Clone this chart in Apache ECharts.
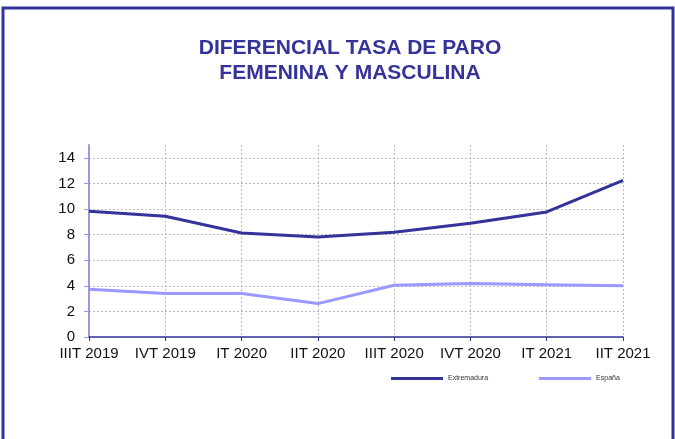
<!DOCTYPE html>
<html>
<head>
    <meta charset="utf-8">
    <title>Diferencial tasa de paro</title>
    <script type="text/javascript" src="https://cdn.jsdelivr.net/npm/echarts@6/dist/echarts.min.js"></script>
    <style>
        html, body { margin: 0; padding: 0; background: #fff; }
    </style>
</head>
<body>
<div id="chart" style="width:675px;height:439px;"></div>
<script type="text/javascript">
    // datos
    var trimestres = ['IIIT 2019', 'IVT 2019', 'IT 2020', 'IIT 2020', 'IIIT 2020', 'IVT 2020', 'IT 2021', 'IIT 2021'];
    var extremadura = [9.82, 9.43, 8.13, 7.81, 8.18, 8.88, 9.77, 12.24];
    var espana = [3.73, 3.39, 3.39, 2.61, 4.04, 4.17, 4.09, 4.01];
    var nombres = ['Extremadura', 'España'];
    var colores = ['#333399', '#9999ff'];

    var myChart = echarts.init(document.getElementById('chart'));

    var option = {
        backgroundColor: '#fff',
        animation: false,
        title: {
            text: 'DIFERENCIAL TASA DE PARO\nFEMENINA Y MASCULINA',
            left: 345,
            textAlign: 'center',
            top: 31,
            textStyle: {
                fontFamily: 'Liberation Sans, Arial',
                fontSize: 21,
                fontWeight: 'bold',
                color: '#333399',
                lineHeight: 25
            }
        },
        graphic: [
            {
                type: 'polyline',
                shape: { points: [[3, 439], [3, 8], [673, 8], [673, 439]] },
                style: { stroke: '#333399', lineWidth: 3, fill: null }
            }
        ],
        legend: {
            data: nombres,
            left: 386,
            top: 370,
            itemWidth: 52,
            itemHeight: 3,
            itemGap: 51,
            icon: 'rect',
            textStyle: { fontFamily: 'Liberation Sans, Arial', fontSize: 7, color: '#333' }
        },
        grid: {
            left: 89,
            right: 52,
            top: 145,
            bottom: 102,
            containLabel: false
        },
        xAxis: {
            type: 'category',
            boundaryGap: false,
            data: trimestres,
            axisLine: { lineStyle: { color: '#333399', width: 1.5 } },
            axisTick: { show: true, length: 4, lineStyle: { color: '#333399' } },
            axisLabel: {
                fontFamily: 'Liberation Sans, Arial',
                fontSize: 15,
                color: '#111',
                margin: 9,
                interval: 0
            },
            splitLine: {
                show: true,
                lineStyle: { color: '#bbb', type: [2, 2], width: 1 }
            }
        },
        yAxis: {
            type: 'value',
            min: 0,
            max: 15,
            interval: 2,
            axisLine: { show: true, lineStyle: { color: '#9999dd', width: 2 } },
            axisTick: { show: true, length: 5, lineStyle: { color: '#9999dd' } },
            axisLabel: {
                fontFamily: 'Liberation Sans, Arial',
                fontSize: 15,
                color: '#111',
                margin: 14,
                showMaxLabel: false
            },
            splitLine: {
                show: true,
                lineStyle: {
                    color: ['#bbb', '#bbb', '#bbb', '#bbb', '#bbb', '#bbb', '#bbb', '#bbb', 'rgba(0,0,0,0)'],
                    type: [2, 2],
                    width: 1
                }
            }
        },
        series: [
            {
                name: nombres[0],
                type: 'line',
                data: extremadura,
                symbol: 'none',
                lineStyle: { color: colores[0], width: 3 },
                itemStyle: { color: colores[0] }
            },
            {
                name: nombres[1],
                type: 'line',
                data: espana,
                symbol: 'none',
                lineStyle: { color: colores[1], width: 3 },
                itemStyle: { color: colores[1] }
            }
        ]
    };
    myChart.setOption(option);
</script>
</body>
</html>
